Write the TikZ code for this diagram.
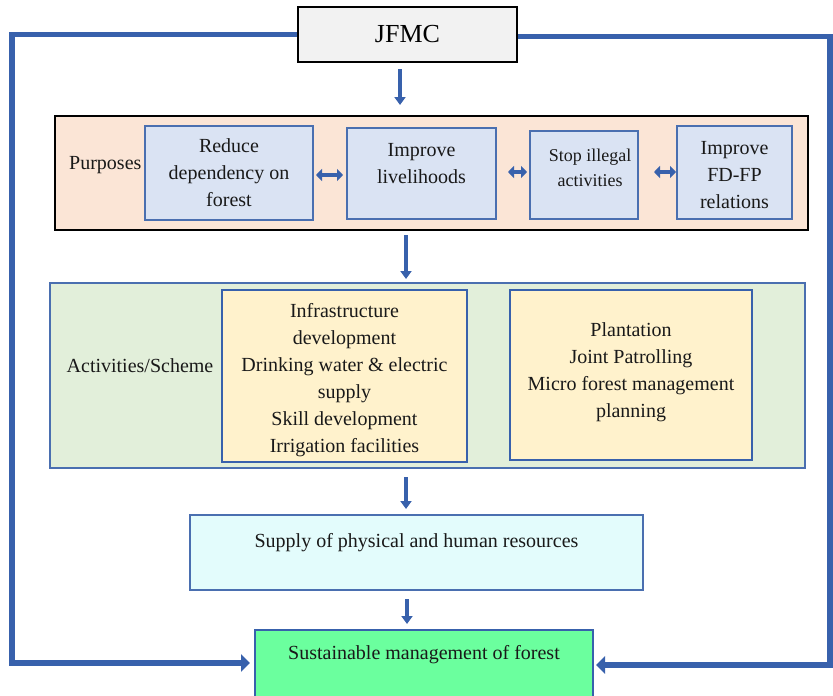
\documentclass[tikz,border=0pt]{standalone}
\usepackage{fontspec}
\setmainfont{Liberation Serif}
\usetikzlibrary{arrows.meta,calc}
\definecolor{lineblue}{HTML}{3861AC}
\definecolor{boxblue}{HTML}{4A6FB0}
\definecolor{jfmcfill}{HTML}{F2F2F2}
\definecolor{peach}{HTML}{FBE5D6}
\definecolor{paleblue}{HTML}{DAE3F3}
\definecolor{palegreen}{HTML}{E2EFDA}
\definecolor{paleyellow}{HTML}{FFF2CC}
\definecolor{palecyan}{HTML}{E3FCFC}
\definecolor{brightgreen}{HTML}{6BFF9E}
\tikzset{
  box/.style={draw=boxblue, line width=2pt, inner sep=0pt},
  txt/.style={align=center, font=\fontsize{20}{27}\selectfont, inner sep=0pt, text=black!90},
  feedback/.style={draw=lineblue, line width=5.5pt, -{Triangle[width=17pt,length=9pt]}},
  darrow/.style={draw=lineblue, line width=3.5pt, -{Triangle[width=11pt,length=8pt]}},
  dblarrow/.style={draw=lineblue, line width=4.5pt, {Triangle[width=12pt,length=6pt]}-{Triangle[width=12pt,length=6pt]}},
}
\begin{document}
\begin{tikzpicture}[x=1pt,y=-1pt]
\useasboundingbox (0,0) rectangle (833,696);
% top
\node[draw=black, line width=2pt, fill=jfmcfill, minimum width=219pt, minimum height=55pt, inner sep=0pt, font=\fontsize{26}{30}\selectfont] (jfmc) at (407.5,34.5) {JFMC};
% purposes
\node[draw=black, line width=2pt, fill=peach, minimum width=753pt, minimum height=114pt] (purp) at (431.5,173) {};
\node[txt, anchor=west] (purplab) at (69,165) {Purposes};
\node[box, fill=paleblue, minimum width=168pt, minimum height=94pt] (b1) at (229,173) {};
\node[txt] (t1) at (229,173) {Reduce\\dependency on\\forest};
\node[box, fill=paleblue, minimum width=149pt, minimum height=91pt] (b2) at (421.5,173.5) {};
\node[txt] (t2) at (421.5,163.5) {Improve\\livelihoods};
\node[box, fill=paleblue, minimum width=108pt, minimum height=88pt] (b3) at (584,175) {};
\node[txt, font=\fontsize{18}{25}\selectfont] (t3) at (590,167.5) {Stop illegal\\activities};
\node[box, fill=paleblue, minimum width=115pt, minimum height=93pt] (b4) at (734.5,172.5) {};
\node[txt] (t4) at (734.5,175) {Improve\\FD-FP\\relations};
% activities
\node[box, fill=palegreen, minimum width=755pt, minimum height=185pt] (act) at (427.5,375.5) {};
\node[txt] (actlab) at (140,366) {Activities/Scheme};
\node[box, draw=lineblue, fill=paleyellow, minimum width=245pt, minimum height=172pt] (ba) at (344.5,376) {};
\node[txt] (ta) at (344.5,380) {Infrastructure\\development\\Drinking water \& electric\\supply\\Skill development\\Irrigation facilities};
\node[box, draw=lineblue, fill=paleyellow, minimum width=242pt, minimum height=170pt] (bb) at (631,375) {};
\node[txt] (tb) at (631,372.5) {Plantation\\Joint Patrolling\\Micro forest management\\planning};
% supply
\node[box, fill=palecyan, minimum width=453pt, minimum height=75pt] (sup) at (416.5,552.5) {};
\node[txt] (tsup) at (416.5,543) {Supply of physical and human resources};
% sustainable
\node[box, draw=lineblue, fill=brightgreen, minimum width=338pt, minimum height=72pt] (sus) at (424,666) {};
\node[txt] (tsus) at (424,655) {Sustainable management of forest};
% coordinates
\coordinate (xa) at (400,0);
\coordinate (xb) at (406,0);
\coordinate (xc) at (407,0);
\coordinate (lc) at (12,0);
\coordinate (rc) at (830,0);
% down arrows
\draw[darrow, shorten <=6pt, shorten >=10pt] (jfmc.south -| xa) -- (purp.north -| xa);
\draw[darrow, shorten <=4pt, shorten >=3pt] (purp.south -| xb) -- (act.north -| xb);
\draw[darrow, shorten <=8pt, shorten >=5pt] (act.south -| xb) -- (sup.north -| xb);
\draw[darrow, shorten <=8pt, shorten >=5pt] (sup.south -| xc) -- (sus.north -| xc);
% double arrows
\draw[dblarrow, shorten <=2pt, shorten >=3pt] ($(b1.east)+(0,2)$) -- ($(b2.west)+(0,1.5)$);
\draw[dblarrow, shorten <=11pt, shorten >=2pt] ($(b2.east)+(0,-1.5)$) -- ($(b3.west)+(0,-3)$);
\draw[dblarrow, shorten <=15pt, shorten >=0pt] ($(b3.east)+(0,-3)$) -- ($(b4.west)+(0,-0.5)$);
% feedback loops
\draw[feedback] (jfmc.west) -- (jfmc.west -| lc) -- ($(sus.west -| lc)+(0,-3)$) -- ($(sus.west)+(-4,-3)$);
\draw[feedback] ($(jfmc.east)+(0,2)$) -- ($(jfmc.east -| rc)+(0,2)$) -- ($(sus.east -| rc)+(0,-1)$) -- ($(sus.east)+(2,-1)$);
\end{tikzpicture}
\end{document}
